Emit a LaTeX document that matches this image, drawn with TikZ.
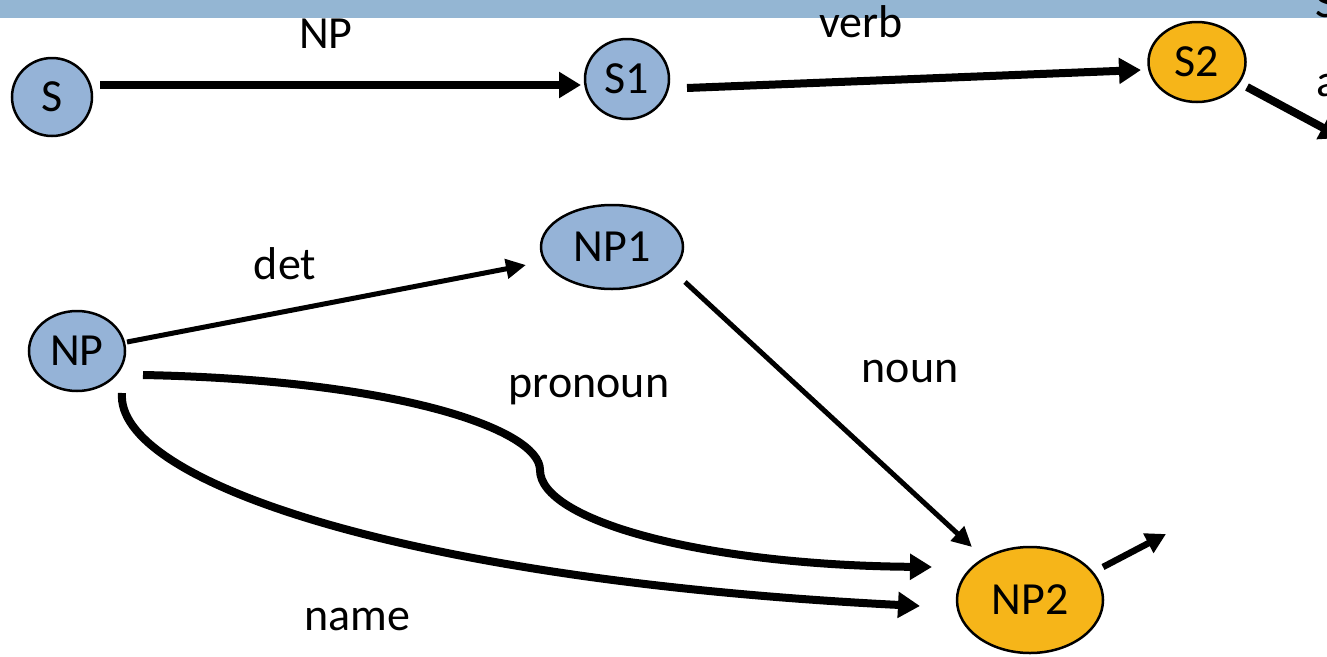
\documentclass[tikz,border=0pt]{standalone}
\usepackage{fontspec}
\setmainfont{Carlito}
\usetikzlibrary{arrows.meta,calc,shapes.geometric}
\definecolor{nodeblue}{HTML}{95B3D7}
\definecolor{barblue}{HTML}{94B6D3}
\definecolor{nodeorange}{HTML}{F6B519}
\tikzset{
  state/.style={ellipse, draw=black, line width=2.5pt, inner sep=0pt, font=\fontsize{46}{55}\selectfont},
  bluestate/.style={state, fill=nodeblue},
  orangestate/.style={state, fill=nodeorange},
  thickarrow/.style={line width=8pt, -{Triangle[length=22pt,width=25pt]}},
  thinarrow/.style={line width=5pt, -{Triangle[length=20pt,width=19pt]}},
  lbl/.style={font=\fontsize{46}{55}\selectfont, anchor=base, inner sep=0pt}
}
\begin{document}
\begin{tikzpicture}[x=1pt,y=-1pt]
\useasboundingbox (0,0) rectangle (1327,656);
\clip (0,0) rectangle (1327,656);
\fill[barblue] (0,0) rectangle (1327,18);
% texts cut off at the right edge, as in the reference
\node[lbl, anchor=base west] (cutS) at (1315,17) {S};
\node[lbl, anchor=base west] (cuta) at (1316,96) {a};
% nodes
\node[bluestate, minimum width=80pt, minimum height=78pt] (S) at (52,97) {S};
\node[bluestate, minimum width=84pt, minimum height=80pt] (S1) at (627,79) {S1};
\node[orangestate, minimum width=97pt, minimum height=80pt] (S2) at (1197,62) {S2};
\node[bluestate, minimum width=96pt, minimum height=80pt] (NP) at (77,351) {NP};
\node[bluestate, minimum width=142pt, minimum height=84pt] (NP1) at (612,247) {NP1};
\node[orangestate, minimum width=146pt, minimum height=106pt] (NP2) at (1030,600) {NP2};
\coordinate (outS) at (1342,138);
\coordinate (outNP) at (1166,534);
% connectors
\draw[thickarrow] ($(S)+(48,-12)$) -- ($(S1)+(-46,6)$);
\draw[thickarrow] ($(S1)+(60,9)$) -- ($(S2)+(-56,8)$);
\draw[thickarrow] ($(S2)+(50,25)$) -- (outS);
\draw[thinarrow] ($(NP)+(50,-9)$) -- ($(NP1)+(-86,18)$);
\draw[thinarrow] ($(NP1)+(73,35)$) -- ($(NP2)+(-58,-53)$);
\draw[thickarrow] ($(NP)+(66,24)$) .. controls (400,380) and (540,430) .. (540,470)
   .. controls (540,520) and (700,565) .. ($(NP2)+(-98,-33)$);
\draw[thickarrow] ($(NP)+(45,42)$) .. controls (115,480) and (400,580) .. ($(NP2)+(-110,6)$);
\draw[line width=6.5pt, -{Triangle[length=20pt,width=21pt]}] ($(NP2)+(73,-33)$) -- (outNP);
% labels
\node[lbl] (lNP) at (326,48) {NP};
\node[lbl] (lverb) at (861,37) {verb};
\node[lbl] (ldet) at (285,279) {det};
\node[lbl] (lnoun) at (910,382) {noun};
\node[lbl] (lpronoun) at (589,397) {pronoun};
\node[lbl] (lname) at (357,630) {name};
\end{tikzpicture}
\end{document}
